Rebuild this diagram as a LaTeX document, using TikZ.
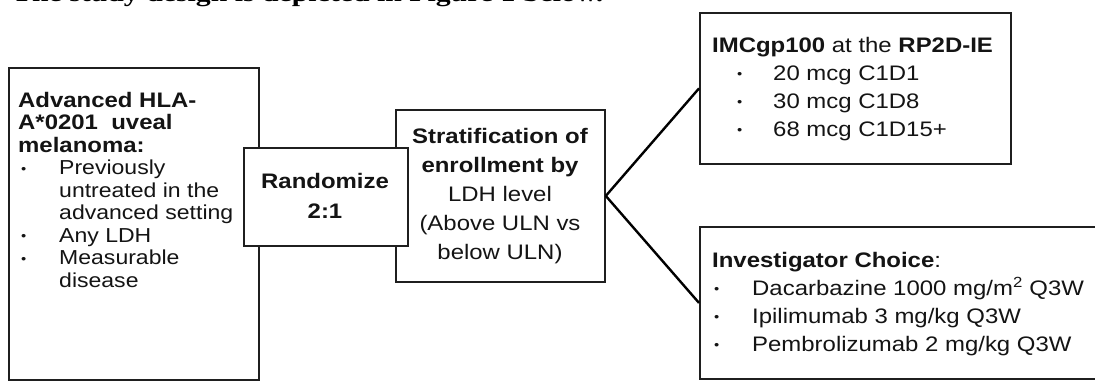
\documentclass[tikz,border=0pt]{standalone}
\usepackage{graphicx}
\usepackage{fontspec}
\setmainfont{Liberation Sans}[FakeStretch=1.14]
\newfontfamily\titlefont{Liberation Serif}
\newcommand\bul[1]{\makebox[#1][l]{\raisebox{1.5pt}{\fontsize{13}{13}\selectfont\textbullet}}}
\begin{document}
\begin{tikzpicture}[x=1pt,y=-1pt,
  box/.style={draw=black!88, line width=1.8pt, fill=white, inner sep=0pt, anchor=north west},
  txt/.style={anchor=base west, inner sep=0pt, text=black!92},
  ctxt/.style={anchor=base, inner sep=0pt, text=black!92},
  link/.style={line width=2.4pt, draw=black}]
\useasboundingbox (0,0) rectangle (1095,381);
\clip (0,0) rectangle (1095,381);
% title line (cut off at the top)
\node[txt, text=black] (title) at (12,1.5) {\resizebox{591pt}{\height}{\titlefont\bfseries\fontsize{24}{24}\selectfont The study design is depicted in Figure 1 below.}};
% boxes
\node[box, minimum width=250pt, minimum height=312pt] (left) at (8,67) {};
\node[box, minimum width=209pt, minimum height=172pt] (strat) at (395,109) {};
\node[box, minimum width=164pt, minimum height=98pt] (rand) at (243,147) {};
\node[box, minimum width=311pt, minimum height=151pt] (top) at (699,12) {};
\node[box, minimum width=420pt, minimum height=152pt] (bot) at (699,226) {};
% connectors
\draw[link] (strat.east) -- (top.west);
\draw[link] (strat.east) -- (bot.west);
% texts
\node[txt] (lefttext) at (18,107) {\fontsize{21}{22.5}\selectfont\begin{tabular}[t]{@{}l@{}}
\textbf{Advanced HLA-}\\
\textbf{A*0201~ uveal}\\
\textbf{melanoma:}\\
\hspace{3pt}\bul{38pt}{\fontsize{20.2}{22.5}\selectfont Previously}\\
\hspace{41pt}{\fontsize{20.2}{22.5}\selectfont untreated in the}\\
\hspace{41pt}{\fontsize{20.2}{22.5}\selectfont advanced setting}\\
\hspace{3pt}\bul{38pt}{\fontsize{20.2}{22.5}\selectfont Any LDH}\\
\hspace{3pt}\bul{38pt}{\fontsize{20.2}{22.5}\selectfont Measurable}\\
\hspace{41pt}{\fontsize{20.2}{22.5}\selectfont disease}
\end{tabular}};
\node[ctxt] (randtext) at (325,188) {\fontsize{21}{30}\selectfont\begin{tabular}[t]{@{}c@{}}
\textbf{Randomize}\\
\textbf{2:1}
\end{tabular}};
\node[ctxt] (strattext) at (500,143) {\fontsize{21}{29}\selectfont\begin{tabular}[t]{@{}c@{}}
\textbf{Stratification of}\\
\textbf{enrollment by}\\
LDH level\\
(Above ULN vs\\
below ULN)
\end{tabular}};
\node[txt] (tophead) at (712,52) {\fontsize{21}{28}\selectfont\textbf{IMCgp100} at the \textbf{RP2D-IE}};
\node[txt] (toplist) at (737,80) {\fontsize{21}{28}\selectfont\begin{tabular}[t]{@{}l@{}}
\bul{36pt}20 mcg C1D1\\
\bul{36pt}30 mcg C1D8\\
\bul{36pt}68 mcg C1D15+
\end{tabular}};
\node[txt] (bothead) at (712,267) {\fontsize{21}{28}\selectfont\textbf{Investigator Choice}:};
\node[txt] (botlist) at (714,295) {\fontsize{21}{28}\selectfont\begin{tabular}[t]{@{}l@{}}
\bul{38pt}Dacarbazine 1000 mg/m\textsuperscript{2} Q3W\\
\bul{38pt}Ipilimumab 3 mg/kg Q3W\\
\bul{38pt}Pembrolizumab 2 mg/kg Q3W
\end{tabular}};
\end{tikzpicture}
\end{document}
